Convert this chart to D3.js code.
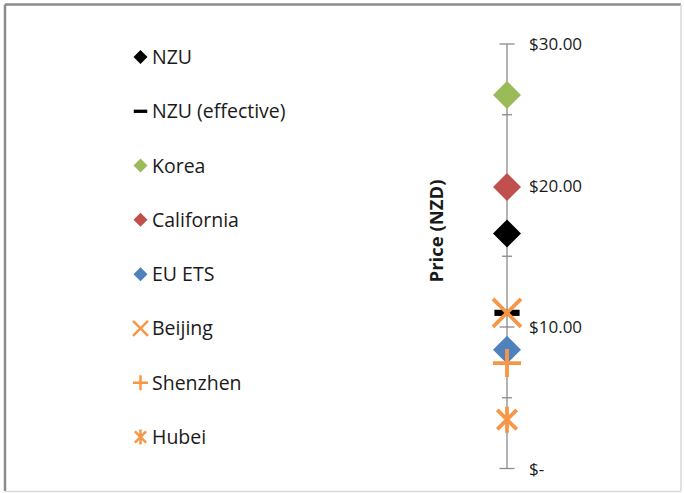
<!DOCTYPE html>
<html>
<head>
<meta charset="utf-8">
<script src="https://cdn.jsdelivr.net/npm/d3@7"></script>
<style>
  html, body { margin: 0; padding: 0; background: #fff; }
  svg { display: block; }
  text { font-family: "Open Sans", "Noto Sans", sans-serif; fill: #1a1a1a; }
</style>
</head>
<body>
<svg id="chart" width="684" height="493"></svg>
<script>
// Carbon prices by scheme (NZD)
const schemes = ["NZU", "NZU (effective)", "Korea", "California", "EU ETS", "Beijing", "Shenzhen", "Hubei"];
const prices = [16.6, 11.0, 26.4, 19.9, 8.4, 11.0, 7.45, 3.45];
const markers = ["diamond", "dash", "diamond", "diamond", "diamond", "cross", "plus", "star"];
const colors = ["#000000", "#000000", "#9BBB59", "#C0504D", "#4F81BD", "#F79646", "#F79646", "#F79646"];
const majorTicks = [0, 10, 20, 30];
const minorTicks = [5, 15, 25];
const axisTitle = "Price (NZD)";

const svg = d3.select("#chart");

// frame around the chart area
svg.append("line").attr("x1", 5).attr("y1", 4.5).attr("x2", 681).attr("y2", 4.5)
  .attr("stroke", "#8c8c8c").attr("stroke-width", 2.5);
svg.append("line").attr("x1", 5).attr("y1", 4.5).attr("x2", 5).attr("y2", 491)
  .attr("stroke", "#8c8c8c").attr("stroke-width", 2.5);
svg.append("line").attr("x1", 681).attr("y1", 4.5).attr("x2", 681).attr("y2", 491)
  .attr("stroke", "#d9d9d9").attr("stroke-width", 1.5);
svg.append("line").attr("x1", 5).attr("y1", 491.5).attr("x2", 681).attr("y2", 491.5)
  .attr("stroke", "#d9d9d9").attr("stroke-width", 1.5);

const y = d3.scaleLinear().domain([0, 30]).range([468.5, 44]);
const x = d3.scaleBand().domain(["price"]).range([480, 534]);
const cx = x("price") + x.bandwidth() / 2;

// marker path builder, r = half size
function markerPath(type, r) {
  const p = d3.path();
  if (type === "diamond") {
    p.moveTo(0, -r); p.lineTo(r, 0); p.lineTo(0, r); p.lineTo(-r, 0); p.closePath();
  } else if (type === "cross") {
    p.moveTo(-r, -r); p.lineTo(r, r); p.moveTo(r, -r); p.lineTo(-r, r);
  } else if (type === "plus") {
    p.moveTo(-r, 0); p.lineTo(r, 0); p.moveTo(0, -r); p.lineTo(0, r);
  } else if (type === "star") {
    const d = r * 0.75;
    p.moveTo(-d, -d); p.lineTo(d, d); p.moveTo(d, -d); p.lineTo(-d, d);
    p.moveTo(0, -r); p.lineTo(0, r);
  }
  return p.toString();
}

function drawMarker(g, type, color, r, scale) {
  if (type === "dash") {
    g.append("rect").attr("x", -r * 0.9).attr("y", -r * 0.22)
      .attr("width", r * 1.8).attr("height", r * 0.44).attr("fill", color);
  } else if (type === "diamond") {
    g.append("path").attr("d", markerPath(type, r)).attr("fill", color);
  } else {
    g.append("path").attr("d", markerPath(type, r)).attr("fill", "none")
      .attr("stroke", color).attr("stroke-width", 3.8 * scale).attr("stroke-linecap", "butt");
  }
}

// axis
const axisG = svg.append("g").attr("transform", `translate(${cx},0)`);
axisG.append("line").attr("x1", 0).attr("x2", 0).attr("y1", y(0)).attr("y2", y(30))
  .attr("stroke", "#8a8a8a").attr("stroke-width", 1.3);
axisG.selectAll("line.major").data(majorTicks).join("line").attr("class", "major")
  .attr("x1", -7.5).attr("x2", 7.5).attr("y1", d => y(d)).attr("y2", d => y(d))
  .attr("stroke", "#8a8a8a").attr("stroke-width", 1.3);
axisG.selectAll("line.minor").data(minorTicks).join("line").attr("class", "minor")
  .attr("x1", -5).attr("x2", 5).attr("y1", d => y(d)).attr("y2", d => y(d))
  .attr("stroke", "#8a8a8a").attr("stroke-width", 1.3);

const fmt = d => d === 0 ? "$-" : d3.format("$.2f")(d);
svg.selectAll("text.tick").data(majorTicks).join("text").attr("class", "tick")
  .attr("x", cx + 22).attr("y", d => y(d)).attr("dy", "0.36em")
  .attr("font-size", 17).text(fmt);

svg.append("text")
  .attr("transform", `translate(443,231) rotate(-90)`)
  .attr("text-anchor", "middle").attr("font-size", 18.5).attr("font-weight", "bold")
  .text(axisTitle);

// data markers
schemes.forEach((s, i) => {
  const g = svg.append("g").attr("transform", `translate(${cx},${y(prices[i])})`);
  const r = markers[i] === "star" ? 13 : 14;
  drawMarker(g, markers[i], colors[i], r, 1);
});

// legend
const legendY = d3.scalePoint().domain(schemes).range([57, 437]);
schemes.forEach((s, i) => {
  const g = svg.append("g").attr("transform", `translate(140.5,${legendY(s)})`);
  drawMarker(g, markers[i], colors[i], markers[i] === "diamond" ? 7 : 7.5, 0.65);
  g.append("text").attr("x", 11.5).attr("dy", "0.36em").attr("font-size", 19.5).text(s);
});
</script>
</body>
</html>
